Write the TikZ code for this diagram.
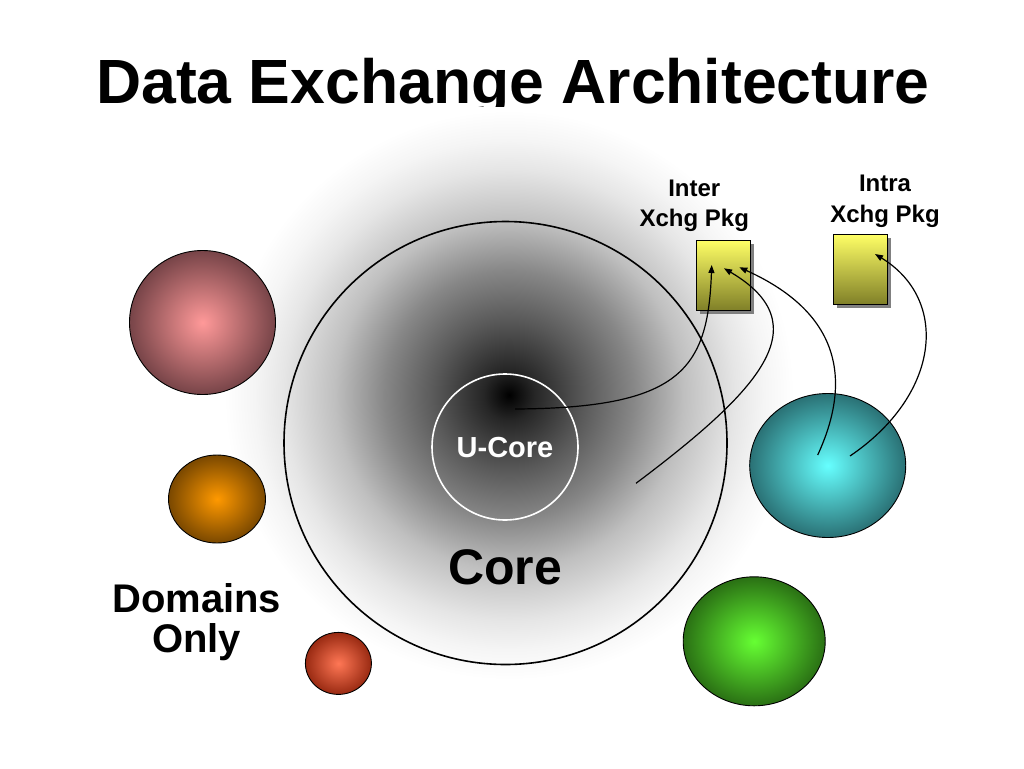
\documentclass[tikz,border=0pt]{standalone}
\usepackage{fontspec}
\setmainfont{Liberation Sans}
\usetikzlibrary{arrows.meta,shapes.geometric,shadows}
\pgfdeclareradialshading{coreglow}{\pgfpoint{0bp}{0bp}}{%
 color(0bp)=(black); color(0.91bp)=(black!85); color(2.69bp)=(black!65);
 color(4.46bp)=(black!47); color(6.23bp)=(black!25); color(8.06bp)=(black!10);
 color(9.09bp)=(black!4); color(10.17bp)=(white); color(50bp)=(white)}
\definecolor{pinkin}{HTML}{FF9999}\definecolor{pinkout}{HTML}{774448}
\definecolor{orangein}{HTML}{FF9900}\definecolor{orangeout}{HTML}{7A4800}
\definecolor{redin}{HTML}{FF7755}\definecolor{redout}{HTML}{992A12}
\definecolor{cyanin}{HTML}{66FFFF}\definecolor{cyanout}{HTML}{2A7175}
\definecolor{greenin}{HTML}{66FF33}\definecolor{greenout}{HTML}{2A7014}
\definecolor{pkgtop}{HTML}{FFFF66}\definecolor{pkgbot}{HTML}{808028}
\begin{document}
\begin{tikzpicture}[x=1pt,y=-1pt,
  lbl/.style={font=\bfseries\fontsize{24}{24}\selectfont, anchor=base, inner sep=0pt},
  ball/.style={ellipse, draw=black, line width=0.9pt, inner sep=0pt, shading=radial},
  pkg/.style={rectangle, draw=black, line width=0.9pt, top color=pkgtop, bottom color=pkgbot,
    inner sep=0pt, minimum width=54pt, minimum height=70pt,
    drop shadow={shadow xshift=3.5pt, shadow yshift=-3.5pt, fill=black!50, opacity=1}},
  flow/.style={line width=1.2pt, -{Triangle[length=8pt,width=6pt]}}]
\useasboundingbox (0,0) rectangle (1024,768);
\fill[white] (0,0) rectangle (1024,768);
% title
\node[font=\bfseries\fontsize{62.5}{62.5}\selectfont, anchor=base, inner sep=0pt] (title) at (513,103.5) {Data Exchange Architecture};
% glow
\begin{scope}
\clip (0,107) rectangle (1024,768);
\fill[shading=coreglow] (509,395) circle (700);
\end{scope}
% core circles
\node[circle, draw=black, line width=1.6pt, minimum size=443pt, inner sep=0pt] (core) at (505.5,443) {};
\node[circle, draw=white, line width=1.6pt, minimum size=146pt, inner sep=0pt] (ucore) at (505,447) {};
\node[font=\bfseries\fontsize{29}{29}\selectfont, text=white, anchor=base, inner sep=0pt] (ucorelbl) at (505,457.7) {U-Core};
\node[font=\bfseries\fontsize{50}{50}\selectfont, anchor=base, inner sep=0pt] (corelbl) at (505,584) {Core};
% domain balls
\node[ball, inner color=pinkin, outer color=pinkout, minimum width=146pt, minimum height=144pt] (pink) at (202.5,322.5) {};
\node[ball, inner color=orangein, outer color=orangeout, minimum width=97pt, minimum height=88pt] (orange) at (217,499) {};
\node[ball, inner color=redin, outer color=redout, minimum width=66pt, minimum height=62pt] (red) at (338.4,663.4) {};
\node[ball, inner color=cyanin, outer color=cyanout, minimum width=156pt, minimum height=144pt] (cyan) at (827.7,465.5) {};
\node[ball, inner color=greenin, outer color=greenout, minimum width=142pt, minimum height=129pt] (green) at (754.2,641.3) {};
\node[font=\bfseries\fontsize{40}{40}\selectfont, anchor=base, inner sep=0pt] (domA) at (196.7,612.7) {Domains};
\node[font=\bfseries\fontsize{40}{40}\selectfont, anchor=base, inner sep=0pt] (domB) at (196.7,652.7) {Only};
% packages
\node[pkg] (interbox) at (723.8,275) {};
\node[pkg] (intrabox) at (860.3,269.2) {};
\node[lbl] (interA) at (694.3,196.7) {Inter};
\node[lbl] (interB) at (694.3,226.7) {Xchg Pkg};
\node[lbl] (intraA) at (885,191.7) {Intra};
\node[lbl] (intraB) at (885,222.5) {Xchg Pkg};
% arrow end points
\coordinate (sA) at (515,409);   \coordinate (tA) at (711.7,265);
\coordinate (sB) at (636,483.3); \coordinate (tB) at (724,268.3);
\coordinate (sC) at (817.7,455); \coordinate (tC) at (739.3,267.3);
\coordinate (sD) at (850,456);   \coordinate (tD) at (875,254);
\draw[flow] (sA) .. controls (680,408) and (708,370) .. (tA);
\draw[flow] (sB) .. controls (760,390) and (820,325) .. (tB);
\draw[flow] (sC) .. controls (850,385) and (845,315) .. (tC);
\draw[flow] (sD) .. controls (940,395) and (950,300) .. (tD);
\end{tikzpicture}
\end{document}
